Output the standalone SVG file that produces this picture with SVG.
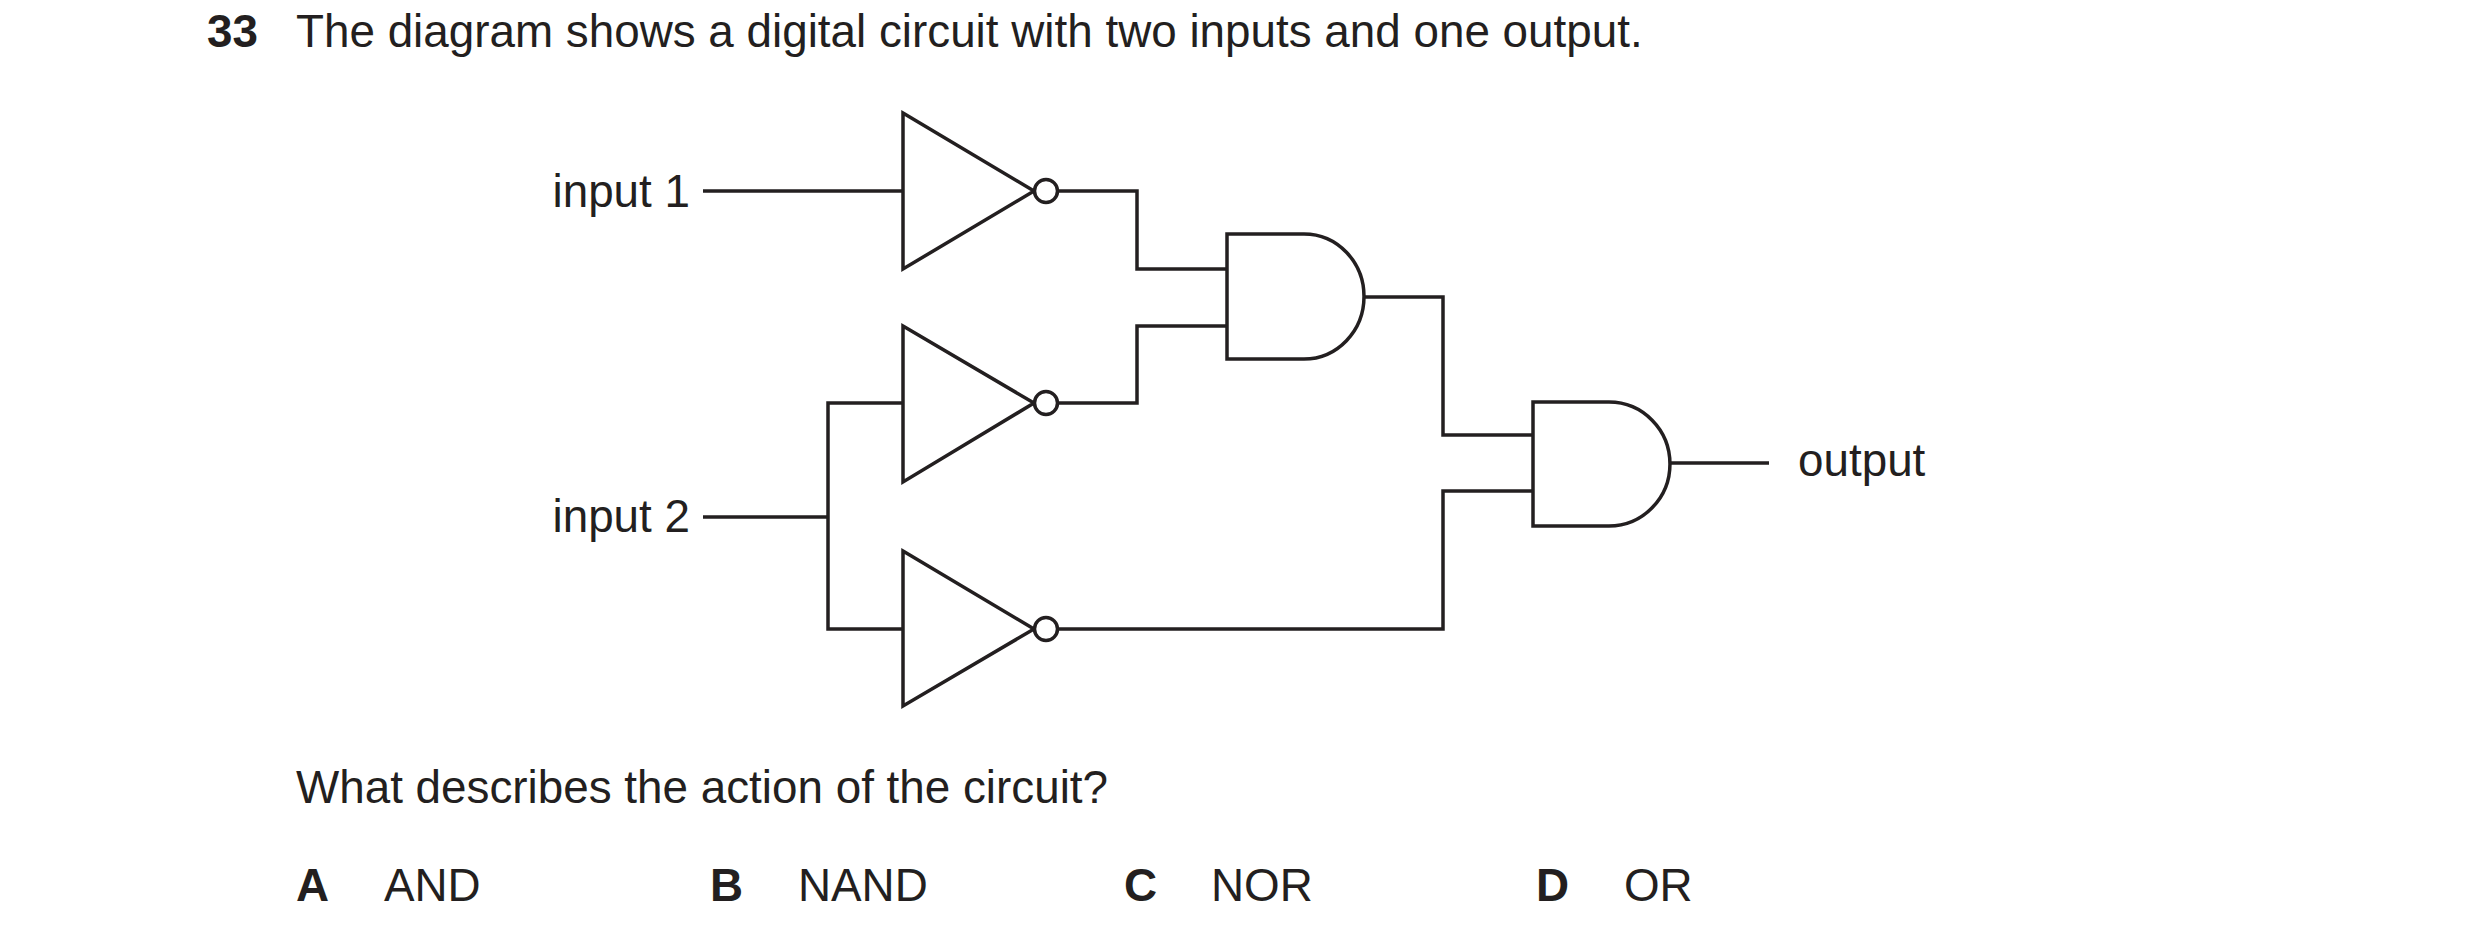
<svg xmlns="http://www.w3.org/2000/svg" width="2480" height="943" viewBox="0 0 2480 943">
<style>
text{font-family:"Liberation Sans",Arial,sans-serif;font-size:45.8px;fill:#231f20}
.b{font-weight:bold}
.g,.w{fill:none;stroke:#231f20;stroke-width:3.5}
.g{fill:#fff}
</style>
<rect width="2480" height="943" fill="#fff"/>
<text x="207" y="47" class="b">33</text>
<text x="296" y="47">The diagram shows a digital circuit with two inputs and one output.</text>
<text x="690" y="207" text-anchor="end">input 1</text>
<text x="690" y="532" text-anchor="end">input 2</text>
<text x="1798" y="476">output</text>
<g id="connectors">
<path class="w" d="M703 191H903 M1058 191H1137V269H1227 M1058 403H1137V326H1227 M703 517H828 M903 403H828V629H903 M1364 297H1443V435H1533 M1058 629H1443V491H1533 M1670 463H1769"/>
</g>
<g id="not1"><path class="g" d="M903 113L1034 191L903 269Z"/><circle class="g" cx="1046" cy="191" r="11.5"/></g>
<g id="not2"><path class="g" d="M903 326L1034 403L903 482Z"/><circle class="g" cx="1046" cy="403" r="11.5"/></g>
<g id="not3"><path class="g" d="M903 551L1034 629L903 706Z"/><circle class="g" cx="1046" cy="629" r="11.5"/></g>
<g id="and1"><path class="g" d="M1227 234H1304A60 62.5 0 0 1 1304 359H1227Z"/></g>
<g id="and2"><path class="g" d="M1533 402H1609A61 62 0 0 1 1609 526H1533Z"/></g>
<text x="296" y="803">What describes the action of the circuit?</text>
<text x="296" y="901" class="b">A</text><text x="384" y="901">AND</text>
<text x="710" y="901" class="b">B</text><text x="798" y="901">NAND</text>
<text x="1124" y="901" class="b">C</text><text x="1211" y="901">NOR</text>
<text x="1536" y="901" class="b">D</text><text x="1624" y="901">OR</text>
</svg>
